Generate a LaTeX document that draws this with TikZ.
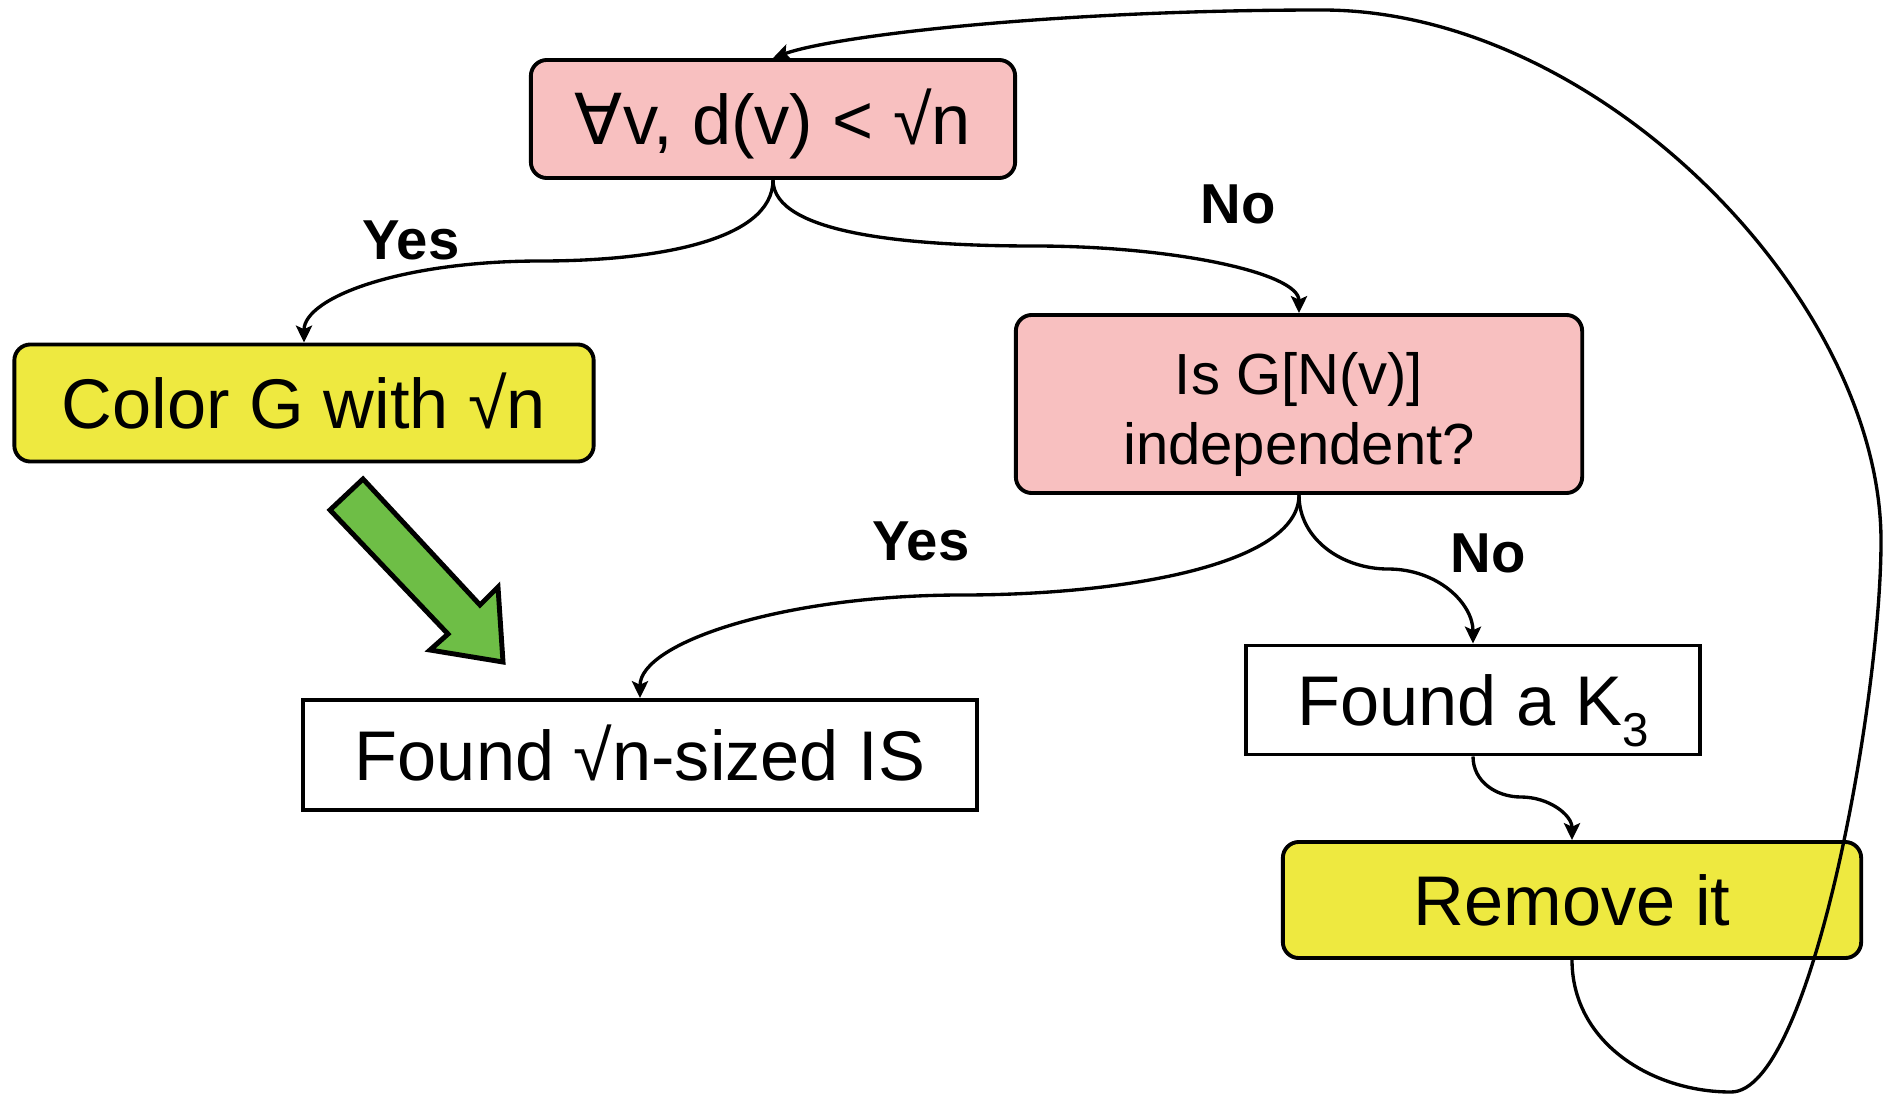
\documentclass[tikz,border=0pt]{standalone}
\usepackage{fontspec}
\setmainfont{Liberation Sans}
\newfontfamily\symfont{DejaVu Sans}
\usetikzlibrary{arrows.meta}
\definecolor{boxpink}{RGB}{248,192,192}
\definecolor{boxyellow}{RGB}{238,233,64}
\definecolor{arrowgreen}{RGB}{110,190,70}
\tikzset{
  flowbox/.style={draw=black, line width=1.1pt, inner sep=0pt, align=center,
    text height=14.5pt, text depth=0pt,
    font=\fontsize{20}{24}\selectfont},
  roundbox/.style={flowbox, rounded corners=0.16cm},
  answer/.style={font=\fontsize{16}{19}\selectfont\bfseries, inner sep=0pt},
  conn/.style={line width=0.95pt, -{Stealth[length=4.8pt,width=4.6pt,inset=1pt]}}
}
\begin{document}
\begin{tikzpicture}[x=0.01cm,y=-0.01cm]
\useasboundingbox (0,0) rectangle (1885,1094);

% decision and action boxes
\node[roundbox, fill=boxpink, minimum width=4.84cm, minimum height=1.18cm] (deg) at (773,119)
  {{\symfont ∀}v, d(v) < √n};
\node[roundbox, fill=boxyellow, minimum width=5.79cm, minimum height=1.17cm] (color) at (304,403)
  {Color G with √n};
\node[roundbox, fill=boxpink, minimum width=5.66cm, minimum height=1.78cm,
  text height={}, text depth={},
  font=\fontsize{16.5}{20}\selectfont] (indep) at (1299,404)
  {\rule{0pt}{18pt}Is G[N(v)]\\independent?};
\node[flowbox, minimum width=6.74cm, minimum height=1.10cm] (found) at (640,755)
  {Found √n-sized IS};
\node[flowbox, minimum width=4.53cm, minimum height=1.09cm] (tri) at (1473,700)
  {Found a K\raisebox{-6pt}{\fontsize{13.5}{13.5}\selectfont 3}};
\node[roundbox, fill=boxyellow, minimum width=5.78cm, minimum height=1.16cm] (remove) at (1572,900)
  {Remove it};

% branch labels
\node[answer] (yes1) at (411,240) {Yes};
\node[answer] (no1) at (1238,204) {No};
\node[answer] (yes2) at (921,541) {Yes};
\node[answer] (no2) at (1488,553) {No};

% bends of the connectors
\coordinate (m1) at (541,261);
\coordinate (m2) at (1034,246);
\coordinate (m3) at (962,595);
\coordinate (m4) at (1388,569);
\coordinate (m5) at (1521,797);
\coordinate (b1) at (1731,1092);
\coordinate (r1) at (1881,541);
\coordinate (t1) at (1322,10);

% connectors
\draw[conn] (deg.south) .. controls +(0,62) and +(110,0) .. (m1)
  .. controls +(-140,0) and +(0,-45) .. (color.north);
\draw[conn] (deg.south) .. controls +(0,55) and +(-120,0) .. (m2)
  .. controls +(140,0) and +(0,-40) .. (indep.north);
\draw[conn] (indep.south) .. controls +(0,70) and +(160,0) .. (m3)
  .. controls +(-180,0) and +(0,-55) .. (found.north);
\draw[conn] (indep.south) .. controls +(0,45) and +(-45,0) .. (m4)
  .. controls +(50,0) and +(0,-40) .. (tri.north);
\draw[conn] (tri.south) .. controls +(0,25) and +(-25,0) .. (m5)
  .. controls +(28,0) and +(0,-25) .. (remove.north);
\draw[conn] (remove.south) .. controls +(0,82) and +(-80,0) .. (b1)
  .. controls +(80,0) and +(0,160) .. (r1)
  .. controls +(0,-241) and +(278,0) .. (t1)
  .. controls +(-270,0) and +(60,-22) .. (deg.north);

% block arrow from the colouring step to the independent set
\draw[line width=1.4pt, fill=arrowgreen, line join=miter]
  (363,479) -- (480,605) -- (498,587) -- (503,662) -- (430,650) -- (448,634)
  -- (330,510) -- cycle;
\end{tikzpicture}
\end{document}
